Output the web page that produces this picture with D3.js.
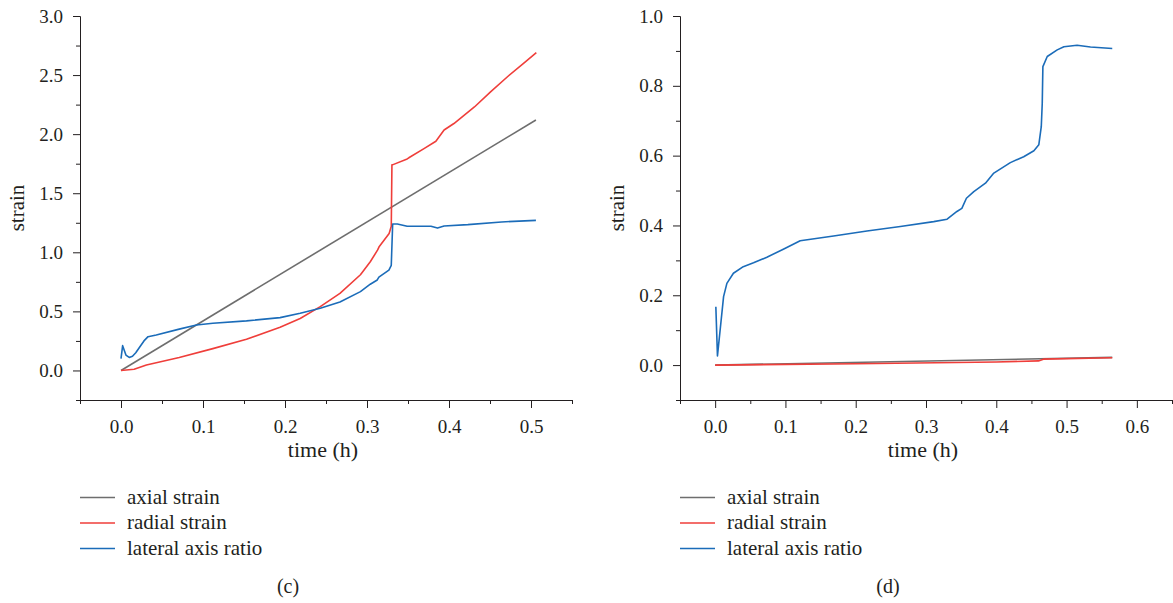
<!DOCTYPE html>
<html>
<head>
<meta charset="utf-8">
<script src="https://cdn.jsdelivr.net/npm/d3@7"></script>
<style>
  html, body { margin: 0; padding: 0; background: #fff; }
  svg { display: block; font-family: "Liberation Serif", "Times New Roman", serif; }
  .lbl { fill: #231f20; }
</style>
</head>
<body>
<div id="chart"></div>
<script>
// panel (c) -- [time h, strain]
const cAxial = [[0, 0], [0.506, 2.12]];
const cRadial = [
  [0, 0], [0.016, 0.01], [0.031, 0.047], [0.071, 0.11], [0.112, 0.185], [0.153, 0.264],
  [0.194, 0.366], [0.2185, 0.44], [0.243, 0.54], [0.267, 0.653], [0.292, 0.81], [0.304, 0.92],
  [0.313, 1.02], [0.315, 1.05], [0.327, 1.16], [0.3296, 1.22], [0.3304, 1.74], [0.331, 1.74],
  [0.349, 1.79], [0.351, 1.80], [0.370, 1.88], [0.384, 1.94], [0.394, 2.035], [0.406, 2.09],
  [0.431, 2.23], [0.451, 2.36], [0.472, 2.49], [0.492, 2.605], [0.5065, 2.69]
];
const cLateral = [
  [0, 0.10], [0.002, 0.21], [0.006, 0.13], [0.010, 0.11], [0.014, 0.12], [0.018, 0.15],
  [0.022, 0.19], [0.028, 0.25], [0.033, 0.286], [0.043, 0.30], [0.071, 0.35], [0.092, 0.385],
  [0.112, 0.40], [0.153, 0.42], [0.194, 0.447], [0.2185, 0.484], [0.243, 0.526], [0.267, 0.58],
  [0.292, 0.667], [0.304, 0.73], [0.3125, 0.766], [0.3145, 0.79], [0.3267, 0.85], [0.3296, 0.89],
  [0.3313, 1.24], [0.337, 1.24], [0.349, 1.22], [0.378, 1.22], [0.386, 1.205], [0.394, 1.223],
  [0.423, 1.234], [0.464, 1.257], [0.506, 1.27]
];

// panel (d)
const dAxial = [[0, 0], [0.565, 0.022]];
const dRadial = [[0, 0], [0.2, 0.004], [0.4, 0.009], [0.46, 0.012], [0.467, 0.017], [0.565, 0.021]];
const dLateral = [
  [0.001, 0.167], [0.0033, 0.026], [0.012, 0.196], [0.0167, 0.234], [0.026, 0.263], [0.040, 0.282],
  [0.0546, 0.293], [0.0736, 0.309], [0.097, 0.332], [0.121, 0.356], [0.1685, 0.37], [0.216, 0.384],
  [0.2635, 0.397], [0.311, 0.411], [0.330, 0.418], [0.344, 0.44], [0.351, 0.449], [0.3575, 0.478],
  [0.368, 0.497], [0.3846, 0.521], [0.3965, 0.55], [0.420, 0.58], [0.439, 0.597], [0.4535, 0.614],
  [0.4605, 0.631], [0.464, 0.683], [0.4654, 0.75], [0.4663, 0.855], [0.4725, 0.884], [0.4867, 0.903],
  [0.4962, 0.912], [0.515, 0.916], [0.534, 0.911], [0.565, 0.907]
];

const cXTicks = [0, 0.1, 0.2, 0.3, 0.4, 0.5];
const dXTicks = [0, 0.1, 0.2, 0.3, 0.4, 0.5, 0.6];
const cYTicks = [0, 0.5, 1.0, 1.5, 2.0, 2.5, 3.0];
const dYTicks = [0, 0.2, 0.4, 0.6, 0.8, 1.0];

const seriesNames = ['axial strain', 'radial strain', 'lateral axis ratio'];
const seriesColors = ['#6e6e6e', '#ef3e3a', '#1b6cb9'];

const W = 1173, H = 603;
const PW = 492, PH = 384, TOP = 16, LEFT = 80;
const FONT = '"Liberation Serif", "Times New Roman", serif';
const INK = '#231f20';

const svg = d3.select('#chart').append('svg').attr('width', W).attr('height', H);

function styleAxis(sel) {
  sel.attr('font-family', null).attr('font-size', null);
  sel.selectAll('path, line').attr('stroke', INK);
  sel.selectAll('text')
    .style('font-family', FONT).style('font-size', '19px').style('fill', INK);
}

function panel(ox, cfg) {
  const g = svg.append('g').attr('transform', `translate(${ox},0)`);
  const x = d3.scaleLinear().domain(cfg.xDomain).range([LEFT, LEFT + PW]);
  const y = d3.scaleLinear().domain(cfg.yDomain).range([TOP + PH, TOP]);

  // minor ticks first, then majors with labels
  const xMinor = d3.range(cfg.xDomain[0], cfg.xDomain[1] + 1e-9, 0.1);
  const yMinor = d3.range(cfg.yDomain[0], cfg.yDomain[1], cfg.yStep);

  g.append('g').attr('transform', `translate(0,${TOP + PH})`)
    .call(d3.axisBottom(x).tickValues(xMinor).tickSize(4).tickSizeOuter(0).tickFormat(''))
    .call(styleAxis);
  g.append('g').attr('transform', `translate(0,${TOP + PH})`)
    .call(d3.axisBottom(x).tickValues(cfg.xTicks).tickSize(8).tickSizeOuter(0).tickPadding(12)
      .tickFormat(d3.format('.1f')))
    .call(styleAxis);
  g.append('g').attr('transform', `translate(${LEFT},0)`)
    .call(d3.axisLeft(y).tickValues(yMinor).tickSize(4).tickSizeOuter(0).tickFormat(''))
    .call(styleAxis);
  g.append('g').attr('transform', `translate(${LEFT},0)`)
    .call(d3.axisLeft(y).tickValues(cfg.yTicks).tickSize(7).tickSizeOuter(0).tickPadding(10)
      .tickFormat(d3.format('.1f')))
    .call(styleAxis);

  g.append('text').attr('class', 'lbl').attr('font-size', 22)
    .attr('text-anchor', 'middle').attr('x', LEFT + PW / 2 - 3).attr('y', 457)
    .text('time (h)');
  g.append('text').attr('class', 'lbl').attr('font-size', 21)
    .attr('text-anchor', 'middle').attr('transform', `translate(24,${TOP + PH / 2}) rotate(-90)`)
    .text('strain');

  const line = d3.line().x(d => x(d[0])).y(d => y(d[1]));
  cfg.series.forEach((s, i) => {
    g.append('path').datum(s)
      .attr('fill', 'none').attr('stroke', seriesColors[i]).attr('stroke-width', 1.6)
      .attr('stroke-linejoin', 'round')
      .attr('d', line);
  });

  // legend
  const lg = g.append('g');
  seriesNames.forEach((name, i) => {
    const ly = 497.5 + i * 25.5;
    lg.append('line').attr('x1', 80).attr('x2', 115).attr('y1', ly).attr('y2', ly)
      .attr('stroke', seriesColors[i]).attr('stroke-width', 1.4);
    lg.append('text').attr('class', 'lbl').attr('font-size', 21)
      .attr('x', 127).attr('y', ly + 6).text(name);
  });

  g.append('text').attr('class', 'lbl').attr('font-size', 20).attr('text-anchor', 'middle')
    .attr('x', 288).attr('y', 593).text(cfg.tag);
}

panel(0, {
  xDomain: [-0.05, 0.55], yDomain: [-0.25, 3.0], yStep: 0.5,
  xTicks: cXTicks, yTicks: cYTicks,
  series: [cAxial, cRadial, cLateral], tag: '(c)'
});
panel(600, {
  xDomain: [-0.05, 0.65], yDomain: [-0.1, 1.0], yStep: 0.2,
  xTicks: dXTicks, yTicks: dYTicks,
  series: [dAxial, dRadial, dLateral], tag: '(d)'
});
</script>
</body>
</html>
